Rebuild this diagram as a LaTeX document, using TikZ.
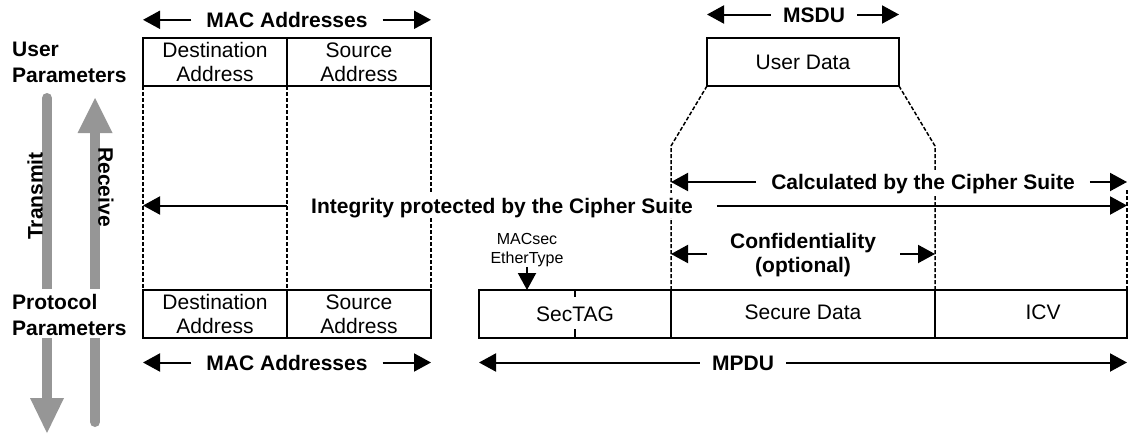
\documentclass[tikz,border=0pt]{standalone}
\usepackage{fontspec}
\setmainfont{Liberation Sans}
\usetikzlibrary{arrows.meta}

\definecolor{flowgray}{RGB}{150,150,150}

\begin{document}
\begin{tikzpicture}[x=1pt,y=-1pt,
  field/.style={draw, line width=1.9pt, inner sep=0pt, outer sep=0pt,
    minimum height=48pt, font=\fontsize{21}{24}\selectfont},
  twoline/.style={align=center},
  guide/.style={draw, line width=1.5pt, dash pattern=on 4pt off 2pt},
  dimarrow/.style={draw, line width=2pt, -{Triangle[length=17pt,width=18pt]}},
  dimlabel/.style={font=\bfseries\fontsize{21}{24}\selectfont, text height=15pt,
    text depth=0pt, inner ysep=5pt, fill=white, anchor=base},
  sidelabel/.style={font=\bfseries\fontsize{21}{26}\selectfont, align=left,
    inner sep=0pt, anchor=north west},
  flowlabel/.style={font=\bfseries\fontsize{21}{24}\selectfont, inner sep=0pt},
]
\useasboundingbox (0,0) rectangle (1129,434);

% transmit / receive flow arrows
\draw[flowgray, line width=10pt, line cap=round] (47,98) -- (47,400);
\fill[flowgray] (30,398) -- (64,398) -- (47,433) -- cycle;
\draw[flowgray, line width=10pt, line cap=round] (95,130) -- (95,422);
\fill[flowgray] (77.5,133) -- (112.5,133) -- (95,98) -- cycle;
\fill[white] (28,289) rectangle (115,338);

\node[sidelabel] (userp) at (12,42.3) {User\\Parameters};
\node[sidelabel] (protp) at (12,293.7) {Protocol\\Parameters};
\node[flowlabel, rotate=90] (tx) at (35,196) {Transmit};
\node[flowlabel, rotate=-90] (rx) at (106,187) {Receive};

% frame fields
\node[field, twoline, minimum width=144pt] (dst1) at (215,62) {Destination\\Address};
\node[field, twoline, minimum width=144pt] (src1) at (359,62) {Source\\Address};
\node[field, twoline, minimum width=144pt] (dst2) at (215,314) {Destination\\Address};
\node[field, twoline, minimum width=144pt] (src2) at (359,314) {Source\\Address};
\node[field, minimum width=192pt, text height=15pt, text depth=0pt] (ud) at (803,62) {User Data};
\node[field, minimum width=192pt, text height=15pt, text depth=0pt] (sectag) at (575,314) {SecTAG};
\node[field, minimum width=264pt, text height=15pt, text depth=5pt] (sd) at (803,314) {Secure Data};
\node[field, minimum width=192pt, text height=15pt, text depth=5pt] (icv) at (1031,314) {\hspace*{24pt}ICV};

% SecTAG inner ticks
\draw[line width=1.4pt] (sectag.north) -- ++(0,7);
\draw[line width=1.4pt] (sectag.south) -- ++(0,-9);

% dashed guide lines
\coordinate (kneeL) at (671,146);
\coordinate (kneeR) at (935,146);
\coordinate (icvtop) at (1127,190);
\draw[guide] (dst1.south west) -- (dst2.north west);
\draw[guide] (dst1.south east) -- (dst2.north east);
\draw[guide] (src1.south east) -- (src2.north east);
\draw[guide] (ud.south west) -- (kneeL) -- (sd.north west);
\draw[guide] (ud.south east) -- (kneeR) -- (sd.north east);
\draw[guide] (icvtop) -- (icv.north east);

% dimension labels and arrows
\node[dimlabel, inner xsep=15pt] (macA) at (287,27.3) {MAC Addresses};
\draw[dimarrow] (macA.west) -- (macA.west -| dst1.west);
\draw[dimarrow] (macA.east) -- (macA.east -| src1.east);

\node[dimlabel, inner xsep=15pt] (macB) at (287,370) {MAC Addresses};
\draw[dimarrow] (macB.west) -- (macB.west -| dst2.west);
\draw[dimarrow] (macB.east) -- (macB.east -| src2.east);

\node[dimlabel, inner xsep=12pt] (msdu) at (814,22) {MSDU};
\draw[dimarrow] (msdu.west) -- (msdu.west -| ud.west);
\draw[dimarrow] (msdu.east) -- (msdu.east -| ud.east);

\node[dimlabel, inner xsep=15pt] (calc) at (923,189.5) {Calculated by the Cipher Suite};
\draw[dimarrow] (calc.west) -- (calc.west -| sd.west);
\draw[dimarrow] (calc.east) -- (calc.east -| icv.east);

\node[dimlabel, inner xsep=2pt] (integ) at (502,213) {Integrity protected by the Cipher Suite};
\draw[dimarrow] (integ.west -| dst1.east) -- (integ.west -| dst1.west);
\draw[dimarrow] ([xshift=22pt]integ.east) -- (integ.east -| icv.east);

\node[flowlabel, align=center] (conf) at (803,255.5) {Confidentiality\\(optional)};
\coordinate (confL) at (707,254);
\coordinate (confR) at (900,254);
\draw[dimarrow] (confL) -- (confL -| sd.west);
\draw[dimarrow] (confR) -- (confR -| sd.east);

\node[font=\fontsize{16}{18.5}\selectfont, align=center, inner sep=0pt] (etype) at (527,250.1) {MACsec\\EtherType};
\draw[dimarrow] (etype.south) -- (etype.south |- sectag.north);

\node[dimlabel, inner xsep=12pt] (mpdu) at (743,370) {MPDU};
\draw[dimarrow] (mpdu.west) -- (mpdu.west -| sectag.west);
\draw[dimarrow] (mpdu.east) -- (mpdu.east -| icv.east);
\end{tikzpicture}
\end{document}
